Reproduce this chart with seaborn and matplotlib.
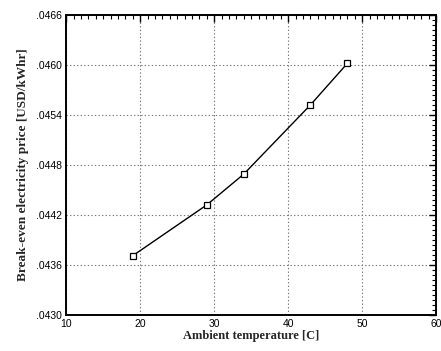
import matplotlib
matplotlib.use("Agg")
import matplotlib.pyplot as plt
import seaborn as sns
import numpy as np
import pandas as pd
from matplotlib.ticker import FixedLocator, MultipleLocator, FuncFormatter

# values
temperature = [19, 29, 34, 43, 48]
price = [0.04371, 0.04432, 0.04469, 0.04552, 0.04602]

x_ticks = [10, 20, 30, 40, 50, 60]
y_ticks = [0.0430, 0.0436, 0.0442, 0.0448, 0.0454, 0.0460, 0.0466]

df = pd.DataFrame({"Ambient temperature [C]": temperature,
                   "Break-even electricity price [USD/kWhr]": price})

sns.set_style("white")
plt.rcParams['font.family'] = ['Liberation Sans', 'DejaVu Sans']

fig = plt.figure(figsize=(4.41, 3.51), dpi=100)
ax = fig.add_axes([0.150, 0.103, 0.839, 0.854])

sns.lineplot(data=df, x="Ambient temperature [C]",
             y="Break-even electricity price [USD/kWhr]",
             color="black", linewidth=1.0, marker="s", markersize=4,
             markerfacecolor="white", markeredgecolor="black",
             markeredgewidth=0.9, ax=ax)

ax.set_xlim(10, 60)
ax.set_ylim(0.0430, 0.0466)
ax.xaxis.set_major_locator(FixedLocator(x_ticks))
ax.xaxis.set_minor_locator(MultipleLocator(1))
ax.yaxis.set_major_locator(FixedLocator(y_ticks))
ax.yaxis.set_minor_locator(FixedLocator(np.linspace(0.0430, 0.0466, 61)))
ax.yaxis.set_major_formatter(FuncFormatter(lambda v, p: f"{v:.4f}"[1:]))

ax.grid(True, which="major", color="#777777", linestyle=(0, (1.2, 2.0)), linewidth=0.8)
ax.tick_params(which="both", direction="in", top=True, right=True,
               labelsize=7.5, colors="black", pad=3)
ax.tick_params(which="major", length=5, width=1)
ax.tick_params(which="minor", length=3, width=0.8)
for s in ax.spines.values():
    s.set_color("black")
    s.set_linewidth(1.4)

ax.set_xlabel("Ambient temperature [C]", family="Liberation Serif",
              fontweight="bold", fontsize=9, labelpad=1)
ax.set_ylabel("Break-even electricity price [USD/kWhr]", family="Liberation Serif",
              fontweight="bold", fontsize=9.5, labelpad=5)

fig.savefig("out.png", dpi=100)
